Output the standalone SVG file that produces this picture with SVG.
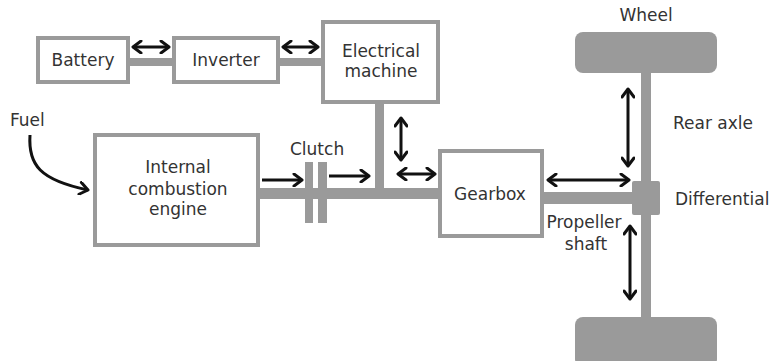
<svg xmlns="http://www.w3.org/2000/svg" width="771" height="361" viewBox="0 0 771 361">
<style>
.box{fill:#fff;stroke:#9a9a9a;stroke-width:4}
.shaft{fill:#9a9a9a}
.arr{fill:none;stroke:#111;stroke-width:3;marker-end:url(#ah)}
.dbl{fill:none;stroke:#111;stroke-width:3;marker-end:url(#ah);marker-start:url(#ah)}
text{font-family:"DejaVu Sans","Verdana",sans-serif;font-size:17px;fill:#333}
.c{text-anchor:middle}
</style>
<defs>
<marker id="ah" markerUnits="userSpaceOnUse" viewBox="0 0 12 14" refX="10" refY="7" markerWidth="12" markerHeight="14" orient="auto-start-reverse">
<path d="M2,1 L10,7 L2,13" fill="none" stroke="#111" stroke-width="3" stroke-linecap="round" stroke-linejoin="round"/>
</marker>
</defs>
<g id="shafts">
<rect class="shaft" x="128" y="58" width="46" height="8"/>
<rect class="shaft" x="278" y="58" width="45" height="8"/>
<rect class="shaft" x="258" y="188" width="182" height="11"/>
<rect class="shaft" x="375" y="102" width="9" height="92"/>
<rect class="shaft" x="305" y="162" width="8" height="61"/>
<rect class="shaft" x="318" y="162" width="9" height="61"/>
<rect class="shaft" x="542" y="192" width="92" height="12"/>
<rect class="shaft" x="641" y="70" width="10" height="250"/>
</g>
<g id="battery"><rect class="box" x="38" y="38" width="90" height="44"/><text class="c" x="83" y="66">Battery</text></g>
<g id="inverter"><rect class="box" x="174" y="38" width="104" height="44"/><text class="c" x="226" y="66">Inverter</text></g>
<g id="electrical-machine"><rect class="box" x="323" y="22" width="115" height="80"/><text class="c" x="381" y="57">Electrical</text><text class="c" x="381" y="77">machine</text></g>
<g id="ice"><rect class="box" x="95" y="135" width="163" height="110"/><text class="c" x="178" y="173">Internal</text><text class="c" x="178" y="195">combustion</text><text class="c" x="178" y="215">engine</text></g>
<g id="gearbox"><rect class="box" x="440" y="151" width="102" height="85"/><text class="c" x="490" y="200">Gearbox</text></g>
<g id="wheel-top"><rect class="shaft" x="575" y="32" width="142" height="41" rx="8"/></g>
<g id="wheel-bottom"><rect class="shaft" x="575" y="317" width="142" height="50" rx="8"/></g>
<g id="differential"><rect class="shaft" x="632" y="181" width="28" height="34" rx="2"/></g>
<g id="connectors">
<path class="dbl" d="M133,47 L169,47"/>
<path class="dbl" d="M283,47 L318,47"/>
<path class="arr" d="M30,135 C28,165 40,180 88,190"/>
<path class="arr" d="M262,180 L302,180"/>
<path class="arr" d="M329,176 L369,176"/>
<path class="dbl" d="M401,118 L401,160"/>
<path class="dbl" d="M398,174 L435,174"/>
<path class="dbl" d="M548,180 L629,180"/>
<path class="dbl" d="M628,89 L628,166"/>
<path class="dbl" d="M630,226 L630,299"/>
</g>
<g id="labels">
<text x="10" y="126">Fuel</text>
<text x="290" y="155">Clutch</text>
<text class="c" x="646" y="21">Wheel</text>
<text x="673" y="129">Rear axle</text>
<text x="675" y="205">Differential</text>
<text class="c" x="584" y="228">Propeller</text>
<text class="c" x="586" y="250">shaft</text>
</g>
</svg>
